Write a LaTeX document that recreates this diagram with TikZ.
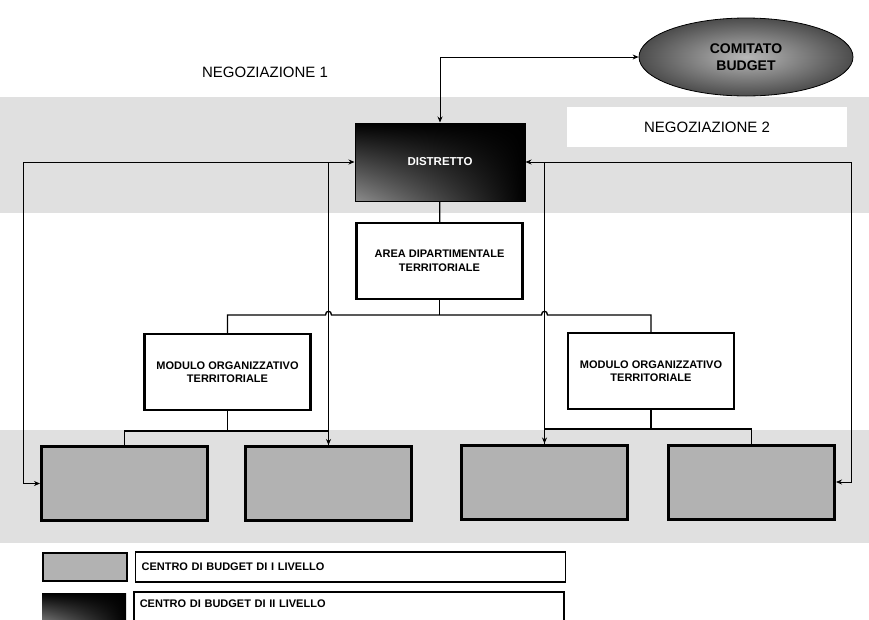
\documentclass[tikz,border=0pt]{standalone}
\usepackage{fontspec}
\setmainfont{Liberation Sans}
\usetikzlibrary{positioning,calc,shapes.geometric,shadings,arrows.meta}
\colorlet{colorBAND}{black!12}
\colorlet{colorCDB}{black!30}
\colorlet{colorDIS}{black!45}
\tikzset{
   every path/.style={>={Stealth[length=6pt,width=5pt]}},
   neg/.style={color=black,line width=0.8pt},
   tree/.style={-,color=black,line width=1.3pt},
   band/.style={fill=colorBAND,draw=none},
   unit/.style={rectangle,draw,line width=2.4pt,fill=white,minimum width=166pt,minimum height=76pt,align=center,font=\fontsize{11}{13.5}\selectfont\bfseries},
   cdb/.style={rectangle,draw,line width=3pt,fill=colorCDB,minimum width=166pt,minimum height=74pt},
   dis/.style={rectangle,draw,line width=1pt,upper left=black,upper right=black,lower right=black,lower left=colorDIS},
   legend/.style={rectangle,draw,line width=1.6pt,fill=white,minimum width=430pt,minimum height=30pt,text width=418pt,font=\fontsize{11}{13}\selectfont\bfseries},
   title/.style={font=\fontsize{15}{18}\selectfont},
}

\begin{document}
\begin{tikzpicture}[x=1pt,y=-1pt]
      \useasboundingbox (0,0) rectangle (869,619);

      % grey bands behind the top and bottom rows
      \fill[band] (0,97) rectangle (869,213);
      \fill[band] (0,430) rectangle (869,543);

      \node[title] (neg1) at (265,72) {NEGOZIAZIONE 1};
      \node[title,fill=white,minimum width=280pt,minimum height=40pt] (neg2) at (707,127) {NEGOZIAZIONE 2};

      \node[ellipse,draw,line width=0.8pt,shading=radial,inner color=black!28,outer color=black!70,
            minimum width=214pt,minimum height=78pt,align=center,font=\fontsize{14}{16.5}\selectfont\bfseries] (comitato)
      at (746,57)
      {COMITATO\\BUDGET};

      \node[dis,minimum width=170pt,minimum height=78pt,text=white,font=\fontsize{11.5}{13}\selectfont\bfseries] (distretto)
      at (440,162)
      {DISTRETTO};

      \node[unit] (area) at (439.5,261) {AREA DIPARTIMENTALE\\TERRITORIALE};

      \node[unit] (modL) at (227.5,372) {MODULO ORGANIZZATIVO\\TERRITORIALE};
      \node[unit] (modR) at (651,371) {MODULO ORGANIZZATIVO\\TERRITORIALE};

      \node[cdb] (b1) at (124.5,483.5) {};
      \node[cdb] (b2) at (328.5,483.5) {};
      \node[cdb] (b3) at (544.5,482) {};
      \node[cdb] (b4) at (751.5,482) {};

      % legend
      \node[rectangle,draw,line width=1.6pt,fill=colorCDB,minimum width=84pt,minimum height=28pt] (sw1) at (85,567) {};
      \node[legend,right = 7pt of sw1] (lab1) {CENTRO DI BUDGET DI I LIVELLO};
      \node[dis,line width=0pt,draw=none,minimum width=84pt,minimum height=34pt] (sw2) at (84,610) {};
      \node[legend,minimum height=36pt,text depth=12pt,right = 7pt of sw2] (lab2) {CENTRO DI BUDGET DI II LIVELLO};

      % hierarchy
      \coordinate (topbus) at (0,315);
      \draw[tree] (distretto) -- (area);
      \draw[tree] (area.south) -- (area.south |- topbus);
      \draw[tree] (modL.north) -- (modL.north |- topbus)
         -- ($ (b2.north |- topbus) + (-3,0) $) .. controls +(0,-5) and +(0,-5) .. ($ (b2.north |- topbus) + (3,0) $)
         -- ($ (b3.north |- topbus) + (-3,0) $) .. controls +(0,-5) and +(0,-5) .. ($ (b3.north |- topbus) + (3,0) $)
         -- (modR.north |- topbus) -- (modR.north);
      \draw[tree] (modL) -- (modL.south |- 0,431);
      \draw[tree] (b1.north) -- (b1.north |- 0,431) -| (b2.north);
      \draw[tree] (modR) -- (modR.south |- 0,429);
      \draw[tree] (b3.north) -- (b3.north |- 0,429) -| (b4.north);

      % negotiation
      \draw[neg,<->] (distretto.north) |- (comitato.west);
      \draw[neg,<->] (b1.west) -- ++(-17,0) |- (distretto.west);
      \draw[neg,->] (b2.north |- distretto.west) -- (b2.north);
      \draw[neg,<->] (b4.east) -- ++(15,0) |- (distretto.east);
      \draw[neg,->] (b3.north |- distretto.east) -- (b3.north);
    \end{tikzpicture}
\end{document}
